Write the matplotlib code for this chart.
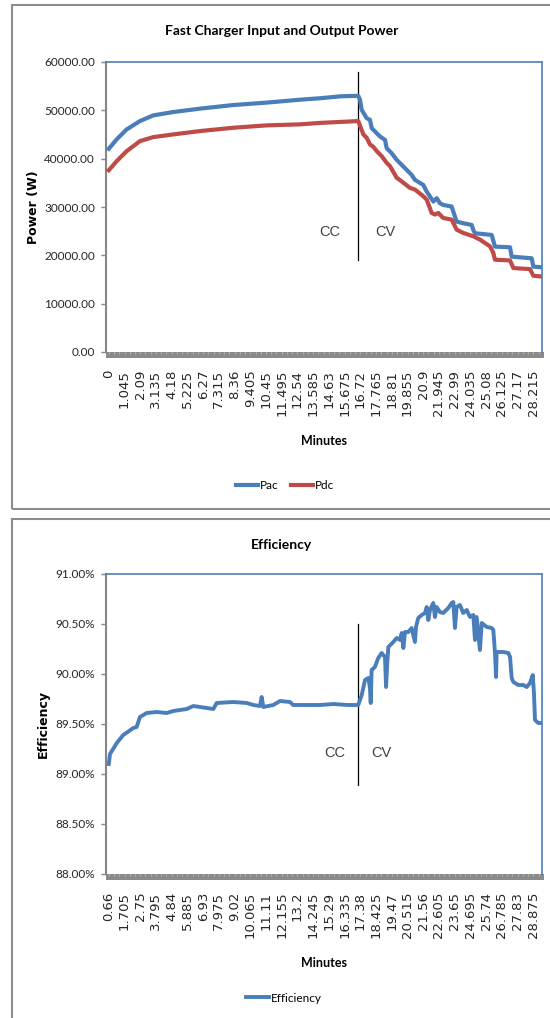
import numpy as np
import matplotlib
matplotlib.use('Agg')
import matplotlib.pyplot as plt
from matplotlib import font_manager
from matplotlib.patches import Rectangle
from matplotlib.ticker import FuncFormatter

BLUE = '#4A7EBB'
RED = '#BE4B48'
GRID_GREY = '#868686'
BAR_GREY = '#8a8a8a'
TEXT = '#262626'


def has_font(name):
    try:
        font_manager.findfont(font_manager.FontProperties(family=name),
                              fallback_to_default=False)
        return True
    except ValueError:
        return False


NARROW = 'Liberation Sans Narrow' if has_font('Liberation Sans Narrow') else 'Liberation Sans'
NARROW_SIZE = 11 if NARROW == 'Liberation Sans Narrow' else 10.5

# ---- power data (minutes, watts) ----
pac_min = [0.0, 0.52, 1.19, 2.07, 2.96, 4.29, 6.06, 8.28, 10.50, 12.71,
           14.04, 15.40, 16.58, 16.70, 16.81, 17.14, 17.36, 17.48, 17.70, 18.03,
           18.36, 18.47, 18.80, 19.14, 19.36, 19.80, 20.13, 20.35, 20.90, 21.13,
           21.57, 21.80, 22.01, 22.23, 22.79, 22.90, 23.12, 23.56, 24.12, 24.23,
           24.34, 25.45, 25.67, 26.67, 26.78, 28.11, 28.22, 28.77]
pac_w = [42050, 43980, 46060, 47780, 48960, 49650, 50350, 51100, 51600, 52200,
         52500, 52900, 53000, 52170, 50100, 48380, 48030, 46300, 45610, 44580,
         43890, 42170, 41130, 39750, 39060, 37680, 36650, 35610, 34580, 33200,
         31130, 31820, 30780, 30430, 30090, 29050, 26980, 26640, 26290, 25260,
         24570, 24220, 21800, 21670, 19730, 19390, 17660, 17530]

pdc_min = [0.0, 0.52, 1.19, 2.07, 2.96, 4.29, 6.06, 8.28, 10.50, 12.71,
           14.04, 15.40, 16.58, 16.92, 17.14, 17.36, 17.58, 17.81, 18.14, 18.47,
           18.69, 19.14, 19.36, 20.02, 20.35, 20.90, 21.13, 21.46, 21.68, 21.90,
           22.23, 22.79, 23.12, 23.56, 24.23, 24.68, 25.34, 25.56, 25.67, 26.67,
           26.89, 28.00, 28.22, 28.77]
pdc_w = [37610, 39480, 41560, 43630, 44460, 45020, 45710, 46400, 46890, 47100,
         47400, 47600, 47780, 45020, 44330, 42940, 42460, 41560, 40520, 39140,
         38450, 36030, 35550, 33950, 33610, 32230, 31540, 28770, 28440, 28770,
         27730, 27390, 25310, 24630, 23930, 23240, 21850, 20480, 19090, 18950,
         17370, 17150, 15770, 15620]

power_ticks = ['0', '1.045', '2.09', '3.135', '4.18', '5.225', '6.27', '7.315',
               '8.36', '9.405', '10.45', '11.495', '12.54', '13.585', '14.63',
               '15.675', '16.72', '17.765', '18.81', '19.855', '20.9', '21.945',
               '22.99', '24.035', '25.08', '26.125', '27.17', '28.215']

# ---- efficiency data (minutes, percent) ----
eff_min = [0.66, 0.74, 1.19, 1.62, 2.29, 2.51, 2.73, 3.18, 3.84, 4.51,
           4.95, 5.84, 6.28, 7.17, 7.61, 7.83, 8.94, 9.83, 10.27, 10.71,
           10.82, 10.93, 11.59, 12.04, 12.70, 12.92, 14.70, 15.60, 16.50, 17.24,
           17.47, 17.69, 17.91, 18.02, 18.07, 18.13, 18.35, 18.57, 18.80, 19.02,
           19.09, 19.17, 19.24, 19.57, 19.80, 20.02, 20.13, 20.24, 20.35, 20.57,
           20.79, 21.01, 21.08, 21.23, 21.46, 21.68, 21.79, 21.90, 22.01, 22.23,
           22.34, 22.45, 22.67, 22.89, 23.23, 23.45, 23.56, 23.67, 23.78, 24.00,
           24.22, 24.45, 24.67, 24.89, 25.00, 25.11, 25.33, 25.45, 25.78, 26.11,
           26.22, 26.33, 26.40, 26.44, 26.88, 27.22, 27.33, 27.44, 27.55, 27.88,
           28.21, 28.44, 28.66, 28.84, 28.92, 28.99, 29.21, 29.43]
eff_pct = [89.10, 89.20, 89.31, 89.39, 89.46, 89.47, 89.57, 89.61, 89.62, 89.61,
           89.63, 89.65, 89.68, 89.66, 89.65, 89.71, 89.72, 89.71, 89.69, 89.68,
           89.77, 89.67, 89.69, 89.73, 89.72, 89.69, 89.69, 89.70, 89.69, 89.69,
           89.79, 89.94, 89.96, 89.86, 89.71, 90.04, 90.07, 90.16, 90.21, 90.17,
           89.87, 90.11, 90.27, 90.32, 90.36, 90.34, 90.41, 90.26, 90.42, 90.42,
           90.46, 90.32, 90.47, 90.56, 90.59, 90.61, 90.67, 90.54, 90.64, 90.71,
           90.57, 90.67, 90.62, 90.61, 90.66, 90.71, 90.72, 90.46, 90.67, 90.69,
           90.61, 90.64, 90.57, 90.59, 90.34, 90.57, 90.24, 90.51, 90.47, 90.46,
           90.44, 90.21, 89.97, 90.22, 90.22, 90.21, 90.17, 89.96, 89.92, 89.89,
           89.89, 89.87, 89.91, 89.99, 89.81, 89.54, 89.51, 89.51]

eff_ticks = ['0.66', '1.705', '2.75', '3.795', '4.84', '5.885', '6.93', '7.975',
             '9.02', '10.065', '11.11', '12.155', '13.2', '14.245', '15.29',
             '16.335', '17.38', '18.425', '19.47', '20.515', '21.56', '22.605',
             '23.65', '24.695', '25.74', '26.785', '27.83', '28.875']

# CC -> CV switch marker
power_switch_min, power_switch_span = 16.58, (19000, 58000)
eff_switch_min, eff_switch_span = 17.24, (88.89, 90.50)

W, H = 550, 1018
fig = plt.figure(figsize=(W / 100, H / 100), dpi=100)
fig.patch.set_facecolor('white')


def fx(x):
    return x / W


def fy(y):
    return 1 - y / H


# chart frames
for top, bottom in [(5, 509), (519, 1100)]:
    fig.add_artist(Rectangle((fx(12), fy(bottom)), fx(600), (bottom - top) / H,
                             transform=fig.transFigure, fill=False,
                             ec='#8c8c8c', lw=1.5))


def style_axes(ax, labels, height_px, fmt):
    ticks = [float(s) for s in labels]
    step = ticks[1] - ticks[0]
    ax.set_xticks(ticks)
    ax.set_xticklabels(labels, rotation=90, fontfamily='DejaVu Sans',
                       fontsize=9.5, color=TEXT)
    ax.set_xticks(np.arange(ticks[0], ax.get_xlim()[1], step / 3), minor=True)
    ax.tick_params(axis='x', which='both', direction='out', length=1.4,
                   width=0.8, color='#b4b4b4', pad=11.3)
    ax.tick_params(axis='x', which='minor', labelbottom=False)
    ax.tick_params(axis='y', direction='out', length=3.5, width=1,
                   color=GRID_GREY, pad=4.5, labelsize=8.5, labelcolor=TEXT)
    for lab in ax.get_yticklabels():
        lab.set_fontfamily('Lato')
    ax.yaxis.set_major_formatter(FuncFormatter(fmt))
    ax.spines['bottom'].set_visible(False)
    ax.spines['left'].set_color(GRID_GREY)
    ax.spines['left'].set_linewidth(1.5)
    for side in ('top', 'right'):
        ax.spines[side].set_color(BLUE)
        ax.spines[side].set_linewidth(1.2)
    bar_h = 6 / height_px
    ax.add_patch(Rectangle((0, -bar_h), 1.004, bar_h, transform=ax.transAxes,
                           clip_on=False, fc=BAR_GREY, ec='none', zorder=1))


# ---- power chart ----
ax1 = fig.add_axes([fx(106), fy(352), 436 / W, 290 / H])
ax1.plot(pac_min, pac_w, color=BLUE, lw=3, label='Pac', zorder=3)
ax1.plot(pdc_min, pdc_w, color=RED, lw=3, label='Pdc', zorder=3)
ax1.plot([power_switch_min] * 2, power_switch_span, color='black', lw=0.9)
ax1.set_xlim(-0.186, 28.795)
ax1.set_ylim(0, 60000)
ax1.set_yticks(np.arange(0, 60001, 10000))
style_axes(ax1, power_ticks, 290, lambda v, p: f'{v:.2f}')
ax1.text(14.70, 24840, 'CC', ha='center', va='center', fontfamily=NARROW,
         fontsize=NARROW_SIZE, color='#404040')
ax1.text(18.36, 24840, 'CV', ha='center', va='center', fontfamily=NARROW,
         fontsize=NARROW_SIZE, color='#404040')
ax1.legend(loc='center', bbox_to_anchor=(fx(285), fy(486)),
           bbox_transform=fig.transFigure, ncol=2, frameon=False,
           prop={'family': 'Lato', 'size': 8.5}, handlelength=1.9,
           handletextpad=0.15, columnspacing=1.0)

fig.text(fx(282), fy(31), 'Fast Charger Input and Output Power', ha='center',
         va='center', fontfamily='Lato', fontweight='bold', fontsize=10)
fig.text(fx(33), fy(207), 'Power (W)', rotation=90, ha='center', va='center',
         fontfamily='DejaVu Sans', fontweight='bold', fontsize=9)
fig.text(fx(324), fy(441), 'Minutes', ha='center', va='center',
         fontfamily='Lato', fontweight='bold', fontsize=9)

# ---- efficiency chart ----
ax2 = fig.add_axes([fx(106), fy(874), 436 / W, 300 / H])
ax2.plot(eff_min, eff_pct, color=BLUE, lw=2.8, label='Efficiency', zorder=3)
ax2.plot([eff_switch_min] * 2, eff_switch_span, color='black', lw=0.9)
ax2.set_xlim(0.474, 29.455)
ax2.set_ylim(88, 91)
ax2.set_yticks(np.arange(88, 91.01, 0.5))
style_axes(ax2, eff_ticks, 300, lambda v, p: f'{v:.2f}%')
ax2.text(15.65, 89.213, 'CC', ha='center', va='center', fontfamily=NARROW,
         fontsize=NARROW_SIZE, color='#404040')
ax2.text(18.75, 89.213, 'CV', ha='center', va='center', fontfamily=NARROW,
         fontsize=NARROW_SIZE, color='#404040')
ax2.legend(loc='center', bbox_to_anchor=(fx(284), fy(998)),
           bbox_transform=fig.transFigure, frameon=False,
           prop={'family': 'Lato', 'size': 8.5}, handlelength=1.9,
           handletextpad=0.15)

fig.text(fx(282), fy(545), 'Efficiency', ha='center', va='center',
         fontfamily='Lato', fontweight='bold', fontsize=10)
fig.text(fx(43), fy(724), 'Efficiency', rotation=90, ha='center', va='center',
         fontfamily='DejaVu Sans', fontweight='bold', fontsize=9)
fig.text(fx(324), fy(963), 'Minutes', ha='center', va='center',
         fontfamily='Lato', fontweight='bold', fontsize=9)

fig.savefig('out.png', dpi=100, facecolor='white')
